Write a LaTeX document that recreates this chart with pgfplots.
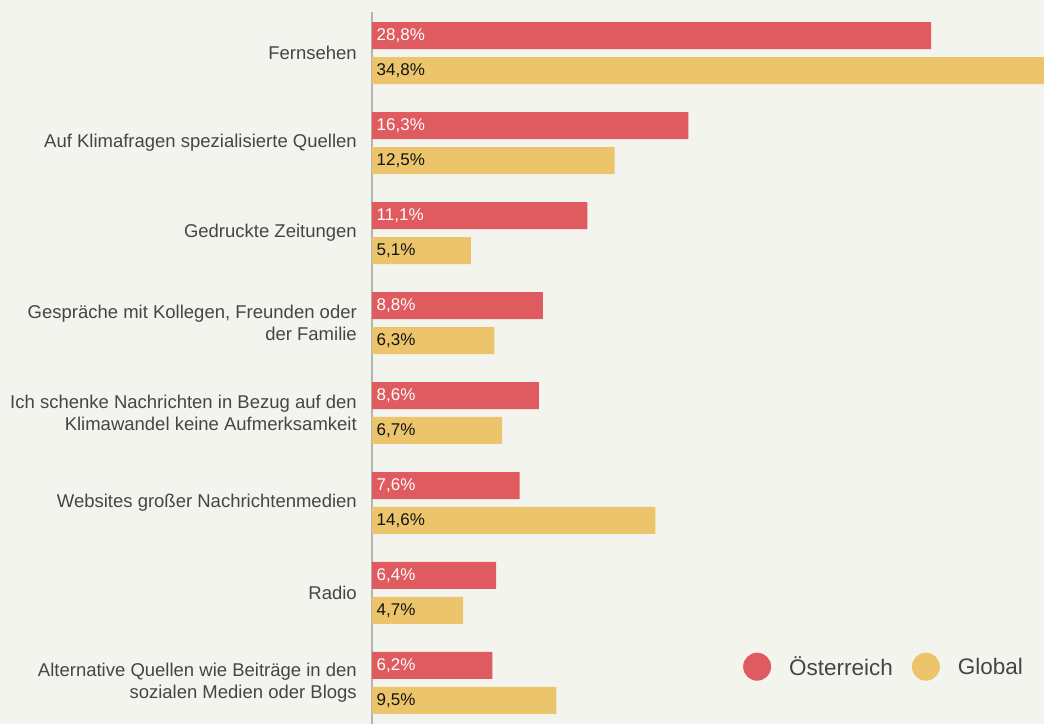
\documentclass[border=0pt]{standalone}
\usepackage{pgfplots}
\pgfplotsset{compat=1.18}
\usepackage{fontspec}
\setmainfont{Liberation Sans}
\definecolor{bg}{HTML}{F4F4EE}
\definecolor{rd}{HTML}{E05B5F}
\definecolor{yl}{HTML}{EBC46C}
\definecolor{txt}{HTML}{454545}
\definecolor{axc}{HTML}{B5B5B0}
\pgfplotsset{circle legend/.style={legend image code/.code={\fill[##1] (0pt,0pt) circle (14pt); \path (-14pt,0pt) (30pt,0pt);}}}
\begin{document}
\begin{tikzpicture}[x=1pt,y=1pt]
\fill[bg] (-372,0) rectangle (672,724);
\useasboundingbox (-372,0) rectangle (672,724);
\begin{axis}[
  at={(0,0)}, anchor=south west,
  scale only axis, width=672pt, height=712pt,
  xmin=0, xmax=34.62, ymin=-0.456, ymax=7.456,
  y dir=reverse,
  axis x line=none, axis y line*=left,
  y axis line style={draw=axc, line width=1.3pt},
  xbar, bar width=27pt, bar shift=0pt,
  ytick={0,...,7}, major tick length=0pt,
  yticklabels={
    Fernsehen,
    Auf Klimafragen spezialisierte Quellen,
    Gedruckte Zeitungen,
    {Gespräche mit Kollegen, Freunden oder\\der Familie},
    Ich schenke Nachrichten in Bezug auf den\\Klimawandel keine Aufmerksamkeit,
    Websites großer Nachrichtenmedien,
    Radio,
    Alternative Quellen wie Beiträge in den\\sozialen Medien oder Blogs},
  yticklabel style={align=right, font=\fontsize{18.5}{22}\selectfont, text=txt, inner sep=0pt, xshift=-15pt},
  legend columns=2,
  legend style={draw=none, fill=none, inner sep=0pt, at={(rel axis cs:0.552,0.0805)}, anchor=west,
    font=\fontsize{22.5}{24}\selectfont, text=txt,
    /tikz/every even column/.append style={column sep=17pt}},
  legend cell align=left,
]
\addplot[fill=rd, draw=none, circle legend] coordinates {
(28.8,-0.1944) (16.3,0.8056) (11.1,1.8056) (8.8,2.8056) (8.6,3.8056) (7.6,4.8056) (6.4,5.8056) (6.2,6.8056)};
\addplot[fill=yl, draw=none, circle legend] coordinates {
(34.8,0.1944) (12.5,1.1944) (5.1,2.1944) (6.3,3.1944) (6.7,4.1944) (14.6,5.1944) (4.7,6.1944) (9.5,7.1944)};
\legend{Österreich, Global}
\addplot[xbar=false, draw=none, mark=none, forget plot, point meta=explicit symbolic,
  nodes near coords, nodes near coords style={anchor=west, text=white, font=\fontsize{17}{18}\selectfont, inner sep=0pt, xshift=4.5pt}]
  coordinates {
(0,-0.1944) [28,8\%] (0,0.8056) [16,3\%] (0,1.8056) [11,1\%] (0,2.8056) [8,8\%] (0,3.8056) [8,6\%] (0,4.8056) [7,6\%] (0,5.8056) [6,4\%] (0,6.8056) [6,2\%]};
\addplot[xbar=false, draw=none, mark=none, forget plot, point meta=explicit symbolic,
  nodes near coords, nodes near coords style={anchor=west, text=black!92, font=\fontsize{17}{18}\selectfont, inner sep=0pt, xshift=4.5pt}]
  coordinates {
(0,0.1944) [34,8\%] (0,1.1944) [12,5\%] (0,2.1944) [5,1\%] (0,3.1944) [6,3\%] (0,4.1944) [6,7\%] (0,5.1944) [14,6\%] (0,6.1944) [4,7\%] (0,7.1944) [9,5\%]};
\end{axis}
\end{tikzpicture}
\end{document}
